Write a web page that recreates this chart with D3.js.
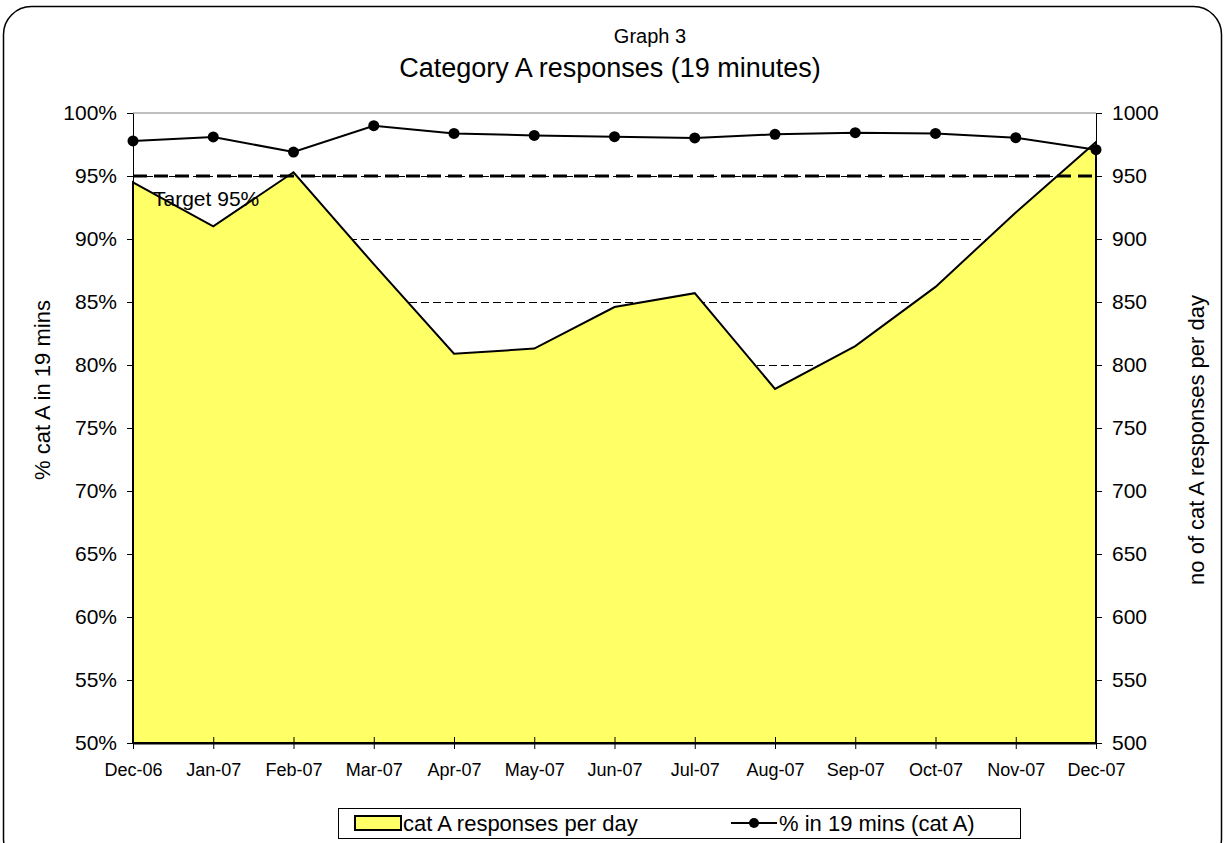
<!doctype html>
<html>
<head>
<meta charset="utf-8">
<style>
  body { margin: 0; background: white; }
  svg { font-family: "Liberation Sans", Arial, sans-serif; }
  .grid line { stroke: black; stroke-width: 1px; stroke-dasharray: 8,4; shape-rendering: crispEdges; }
  .axis path, .axis line { stroke: black; }
  .axis text { fill: black; }
</style>
<script src="https://d3js.org/d3.v7.min.js"></script>
</head>
<body>
<svg width="1226" height="843"></svg>
<script>
// data
var months = ["Dec-06", "Jan-07", "Feb-07", "Mar-07", "Apr-07", "May-07", "Jun-07",
              "Jul-07", "Aug-07", "Sep-07", "Oct-07", "Nov-07", "Dec-07"];
var responsesPerDay = [945, 910, 953, 880, 809, 813, 846, 857, 781, 815, 862, 921, 977];
var pctIn19 = [0.9778, 0.9810, 0.9690, 0.9899, 0.9838, 0.9822, 0.9812, 0.9802,
               0.9831, 0.9844, 0.9838, 0.9804, 0.9709];
var target = 0.95;
var leftTicks = [0.5, 0.55, 0.6, 0.65, 0.7, 0.75, 0.8, 0.85, 0.9, 0.95, 1.0];
var rightTicks = [500, 550, 600, 650, 700, 750, 800, 850, 900, 950, 1000];

var margin = { top: 113, right: 130, bottom: 100, left: 133 };
var W = 1226, H = 843;
var width = W - margin.left - margin.right,
    height = H - margin.top - margin.bottom;

var svg = d3.select("svg");

// outer rounded frame
svg.append("rect")
  .attr("x", 3.5).attr("y", 6.5)
  .attr("width", 1218).attr("height", 860)
  .attr("rx", 28).attr("ry", 28)
  .attr("fill", "white").attr("stroke", "black").attr("stroke-width", 1.5);

svg.append("text").attr("x", 650).attr("y", 43)
  .attr("text-anchor", "middle").attr("font-size", "20px").text("Graph 3");
svg.append("text").attr("x", 610).attr("y", 77)
  .attr("text-anchor", "middle").attr("font-size", "27px")
  .text("Category A responses (19 minutes)");

var g = svg.append("g").attr("transform", "translate(" + margin.left + "," + margin.top + ")");

var x = d3.scalePoint().domain(months).range([0, width]);
var yL = d3.scaleLinear().domain([0.5, 1]).range([height, 0]);
var yR = d3.scaleLinear().domain([500, 1000]).range([height, 0]);

// gridlines (behind the area)
g.append("g").attr("class", "grid")
  .selectAll("line").data(leftTicks.slice(1, -1)).enter().append("line")
  .attr("x1", 0).attr("x2", width)
  .attr("y1", function (d) { return Math.round(yL(d)) + 0.5; })
  .attr("y2", function (d) { return Math.round(yL(d)) + 0.5; });

g.append("line")
  .attr("x1", 0).attr("x2", width).attr("y1", yL(1)).attr("y2", yL(1))
  .attr("stroke", "#808080").attr("stroke-width", 1);

// area: responses per day
var area = d3.area()
  .x(function (d, i) { return x(months[i]); })
  .y0(height)
  .y1(function (d) { return yR(d); });

g.append("path").datum(responsesPerDay)
  .attr("d", area)
  .attr("fill", "#FFFF66")
  .attr("stroke", "black").attr("stroke-width", 2).attr("stroke-linejoin", "miter");

// target line
g.append("line")
  .attr("x1", 0).attr("x2", width)
  .attr("y1", yL(target)).attr("y2", yL(target))
  .attr("stroke", "black").attr("stroke-width", 3)
  .attr("stroke-dasharray", "14,7");

g.append("text")
  .attr("x", 20).attr("y", yL(target) + 30)
  .attr("font-size", "21px").text("Target 95%");

// % line
var line = d3.line()
  .x(function (d, i) { return x(months[i]); })
  .y(function (d) { return yL(d); });

g.append("path").datum(pctIn19)
  .attr("d", line).attr("fill", "none")
  .attr("stroke", "black").attr("stroke-width", 2);

g.selectAll("circle.pt").data(pctIn19).enter().append("circle")
  .attr("class", "pt")
  .attr("cx", function (d, i) { return x(months[i]); })
  .attr("cy", function (d) { return yL(d); })
  .attr("r", 5.5).attr("fill", "black");

// axes
var ax = g.append("g").attr("class", "axis")
  .call(d3.axisLeft(yL).tickValues(leftTicks).tickFormat(d3.format(".0%"))
    .tickSize(6).tickSizeOuter(0).tickPadding(10));
ax.selectAll("text").attr("font-size", "21px");

var axR = g.append("g").attr("class", "axis")
  .attr("transform", "translate(" + width + ",0)")
  .call(d3.axisRight(yR).tickValues(rightTicks).tickFormat(d3.format("d"))
    .tickSize(6).tickSizeOuter(0).tickPadding(10));
axR.selectAll("text").attr("font-size", "21px");

var axB = g.append("g").attr("class", "axis")
  .attr("transform", "translate(0," + height + ")")
  .call(d3.axisBottom(x).tickSize(6).tickSizeOuter(0).tickPadding(14));
axB.selectAll("line").attr("y1", -6).attr("y2", 6);
axB.selectAll("text").attr("font-size", "18px");
axB.select(".domain").attr("stroke-width", 2);

g.append("text")
  .attr("transform", "translate(" + (50 - margin.left) + "," + (390 - margin.top) + ") rotate(-90)")
  .attr("text-anchor", "middle").attr("font-size", "22px")
  .text("% cat A in 19 mins");

g.append("text")
  .attr("transform", "translate(" + (1204 - margin.left) + "," + (440 - margin.top) + ") rotate(-90)")
  .attr("text-anchor", "middle").attr("font-size", "22px")
  .text("no of cat A responses per day");

// legend
var lg = svg.append("g").attr("transform", "translate(338,808)");
lg.append("rect").attr("x", 0.5).attr("y", 0.5).attr("width", 682).attr("height", 30)
  .attr("fill", "white").attr("stroke", "black").attr("stroke-width", 1);
lg.append("rect").attr("x", 17).attr("y", 8).attr("width", 46).attr("height", 14)
  .attr("fill", "#FFFF66").attr("stroke", "black").attr("stroke-width", 2);
lg.append("text").attr("x", 65).attr("y", 23).attr("font-size", "22px")
  .text("cat A responses per day");
lg.append("line").attr("x1", 393).attr("x2", 439).attr("y1", 15).attr("y2", 15)
  .attr("stroke", "black").attr("stroke-width", 2);
lg.append("circle").attr("cx", 416).attr("cy", 15).attr("r", 5).attr("fill", "black");
lg.append("text").attr("x", 441).attr("y", 23).attr("font-size", "22px")
  .text("% in 19 mins (cat A)");
</script>
</body>
</html>
